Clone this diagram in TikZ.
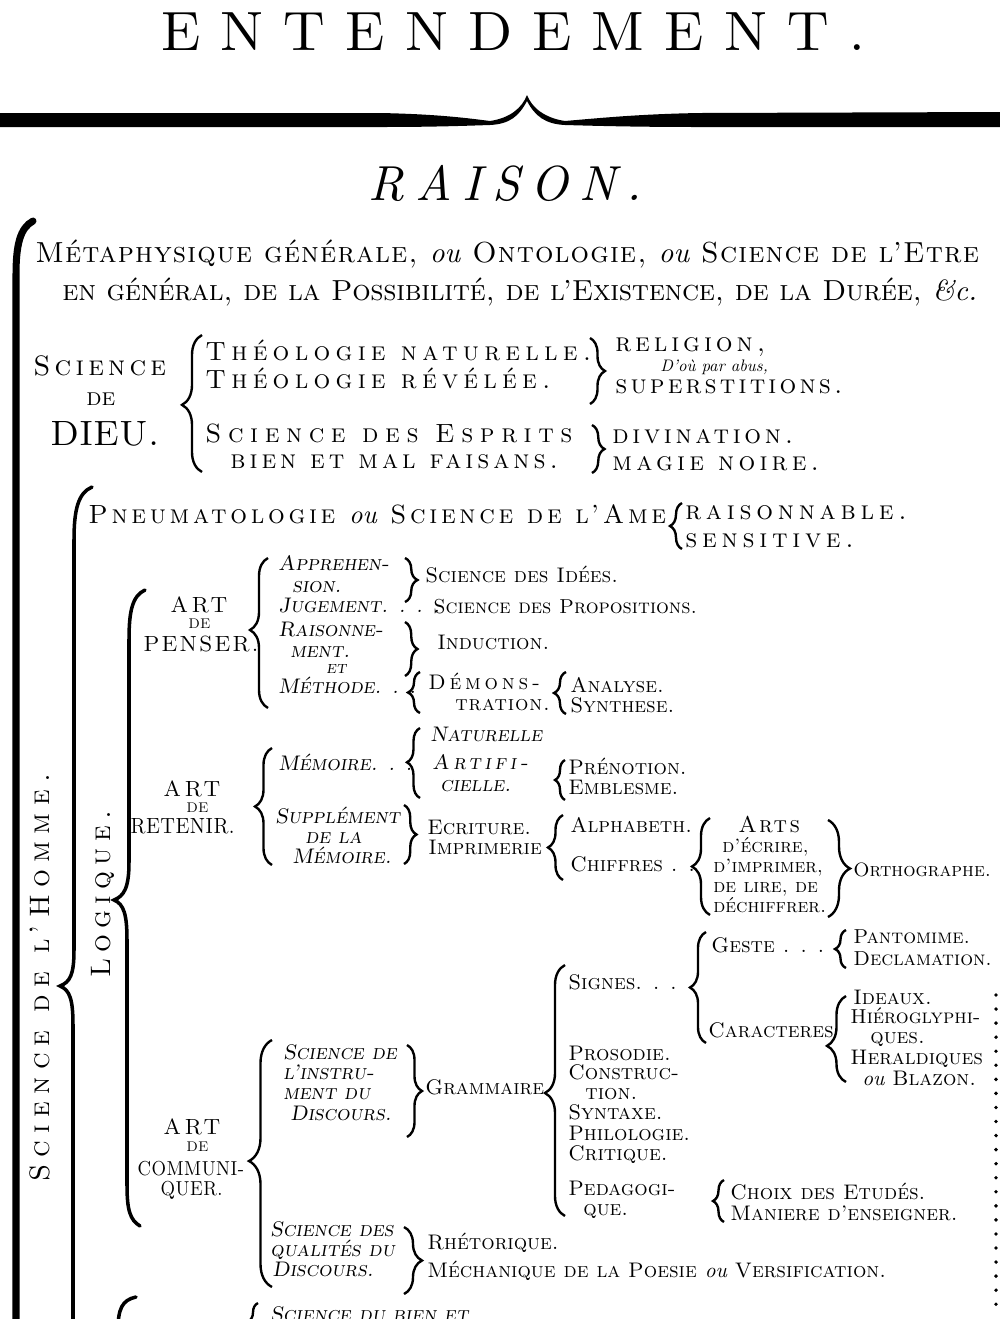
\documentclass[tikz,border=0pt]{standalone}
\usepackage{fontspec}
\setmainfont{lmroman10-regular.otf}[ItalicFont=lmroman10-italic.otf]
\newfontfamily\capsfont{lmromancaps10-regular.otf}
\newfontfamily\slcapsfont{lmromancaps10-oblique.otf}
\newfontfamily\itfont{lmroman10-italic.otf}
\usetikzlibrary{decorations.pathreplacing}

\begin{document}
\begin{tikzpicture}[
	x=0.02cm, y=-0.02cm,
	lbl/.style={inner sep=0pt, anchor=base west},
	smc/.style={lbl, font=\fontsize{#1}{#1}\selectfont\capsfont},
	smc/.default=12,
	smcsp/.style 2 args={lbl, font=\fontsize{#1}{#1}\selectfont\capsfont\addfontfeatures{LetterSpace=#2}},
	narrow/.style 2 args={lbl, font=\fontsize{#1}{#1}\selectfont\capsfont\addfontfeatures{LetterSpace=#2, FakeStretch=0.88}},
	slc/.style={lbl, font=\fontsize{#1}{#1}\selectfont\slcapsfont},
	slc/.default=12,
	slcsp/.style 2 args={lbl, font=\fontsize{#1}{#1}\selectfont\slcapsfont\addfontfeatures{LetterSpace=#2}},
	itl/.style 2 args={lbl, font=\fontsize{#1}{#1}\selectfont\itfont\addfontfeatures{LetterSpace=#2}},
	curly/.style 2 args={decorate, decoration={brace, amplitude=#1, aspect=#2}, line width=1.35pt},
	bar/.style={line width=#1, line cap=round},
	]
	\useasboundingbox (0,0) rectangle (1000,1340);
	\begin{scope}
	\clip (0,0) rectangle (1000,1318);

	% title and rule
	\node[smcsp={31.5}{33}] (entendement) at (160,50) {ENTENDEMENT.};
	\fill (0,113) -- (380,113) .. controls (430,114) and (460,117) .. (490,121)
		.. controls (510,118) and (522,108) .. (527,95)
		.. controls (532,108) and (545,118) .. (565,121)
		.. controls (600,118) and (640,114) .. (700,113) -- (1000,112)
		-- (1000,127) -- (700,127) .. controls (640,127) and (600,126) .. (565,125)
		.. controls (545,124) and (535,116) .. (527,101)
		.. controls (519,116) and (510,124) .. (490,125)
		.. controls (460,126) and (430,127) .. (380,127) -- (0,127) -- cycle;
	\node[itl={28}{22}] (raison) at (368,200) {RAISON.};

	% left rules
	\draw[bar=4pt] (33,221) .. controls (20,228) and (16,245) .. (16,275) -- (16,1330);
	\draw[bar=2pt] (92,487) .. controls (78,493) and (74,510) .. (74,540) -- (74,950)
		.. controls (74,975) and (70,982) .. (60,986)
		.. controls (70,990) and (73,1000) .. (73,1025) -- (73,1330);
	\draw[bar=2pt] (145,590) .. controls (132,596) and (129,612) .. (129,640) -- (129,862)
		.. controls (129,888) and (124,896) .. (114,900)
		.. controls (124,904) and (127,915) .. (127,940) -- (127,1185)
		.. controls (127,1210) and (130,1220) .. (140,1226);
	\node[smcsp={16}{26}, rotate=90] (homme) at (50,1182) {Science de l’Homme.};
	\node[smcsp={16}{22}, rotate=90] (logique) at (110,978) {Logique.};
	\draw[line width=2.2pt, line cap=round, dash pattern=on 0pt off 8pt] (996,995) -- (996,1318);

	% metaphysique
	\node[smcsp={16.5}{4}] (meta1) at (35,262) {Métaphysique générale, {\itfont ou} Ontologie, {\itfont ou} Science de l’Etre};
	\node[smcsp={16.5}{-1}] (meta2) at (62,300) {en général, de la Possibilité, de l’Existence, de la Durée, {\itfont\&c.}};

	% science de dieu
	\node[smcsp={16}{15}] (dieuA) at (33,375) {Science};
	\node[smc=14] (dieuB) at (86,405) {de};
	\node[smcsp={20}{0}] (dieuC) at (50,445) {DIEU.};
	\draw[curly={4mm}{0.49}] (202,472) -- (202,335);
	\node[smcsp={15}{20}] (theoN) at (205,360) {Théologie naturelle.};
	\node[smcsp={15}{20}] (theoR) at (205,388) {Théologie révélée.};
	\node[smcsp={15}{25}] (esprA) at (205,442) {Science des Esprits};
	\node[smcsp={15}{15}] (esprB) at (230,468) {bien et mal faisans.};
	\draw[curly={3mm}{0.5}] (590,338) -- (590,404);
	\node[smcsp={15}{15}] (relig) at (615,351) {religion,};
	\node[itl={9.5}{0}] (abus) at (660,371) {D’où par abus,};
	\node[smcsp={15}{12}] (super) at (615,393) {superstitions.};
	\draw[curly={2.5mm}{0.5}] (592,425) -- (592,473);
	\node[smcsp={15}{14}] (divin) at (612,443) {divination.};
	\node[smcsp={15}{16}] (magie) at (612,470) {magie noire.};

	% pneumatologie
	\node[smcsp={15}{14}] (pneuma) at (88,523) {Pneumatologie {\itfont ou} Science de l’Ame};
	\draw[curly={2.4mm}{0.5}] (682,549) -- (682,503);
	\node[smcsp={15}{18}] (raisonn) at (685,519) {raisonnable.};
	\node[smcsp={15}{18}] (sensit) at (685,547) {sensitive.};

	% art de penser
	\node[smcsp={12.5}{15}] (penserA) at (170,612) {ART};
	\node[smc=8] (penserB) at (188,628) {DE};
	\node[smcsp={12.5}{8}] (penserC) at (143,651) {PENSER.};
	\draw[curly={3.6mm}{0.52}] (268,708) -- (268,558);
	\node[slc] (appr1) at (278,570) {Apprehen-};
	\node[slc] (appr2) at (292,592) {sion.};
	\draw[curly={2.5mm}{0.5}] (405,558) -- (405,602);
	\node[smc] (idees) at (425,582) {Science des Idées.};
	\node[slc] (juge) at (278,612) {Jugement. . . .};
	\node[smc=11.5] (propos) at (433,613) {Science des Propositions.};
	\node[slc] (rais1) at (278,636) {Raisonne-};
	\node[slc] (rais2) at (290,657) {ment.};
	\draw[curly={2.5mm}{0.5}] (405,622) -- (405,676);
	\node[smc] (induct) at (437,649) {Induction.};
	\node[slc=10] (etm) at (326,673) {et};
	\node[slc] (methode) at (278,693) {Méthode. . .};
	\draw[curly={2.4mm}{0.5}] (420,713) -- (420,672);
	\node[smcsp={12}{18}] (demo1) at (428,689) {Démons-};
	\node[smcsp={12}{4}] (demo2) at (455,710) {tration.};
	\draw[curly={2.4mm}{0.5}] (566,714) -- (566,672);
	\node[smc] (analyse) at (570,692) {Analyse.};
	\node[smc] (synthese) at (570,712) {Synthese.};

	% art de retenir
	\node[smcsp={12.5}{15}] (retenirA) at (163,796) {ART};
	\node[smc=8] (retenirB) at (186,812) {DE};
	\node[narrow={12.5}{0}] (retenirC) at (130,833) {RETENIR.};
	\draw[curly={3.4mm}{0.5}] (272,865) -- (272,748);
	\node[slc] (memoire) at (278,770) {Mémoire. . .};
	\draw[curly={2.6mm}{0.51}] (420,798) -- (420,728);
	\node[slc] (natur) at (430,741) {Naturelle};
	\node[slcsp={12}{18}] (artif1) at (432,769) {Artifi-};
	\node[slc] (artif2) at (440,791) {cielle.};
	\draw[curly={2mm}{0.5}] (565,800) -- (565,760);
	\node[smc] (prenot) at (568,774) {Prénotion.};
	\node[smc] (emblem) at (568,794) {Emblesme.};
	\node[slc] (suppl1) at (275,823) {Supplément};
	\node[slc] (suppl2) at (305,843) {de la};
	\node[slc] (suppl3) at (292,863) {Mémoire.};
	\draw[curly={2.5mm}{0.5}] (404,805) -- (404,864);
	\node[smc] (ecrit) at (427,834) {Ecriture.};
	\node[smc] (imprim) at (428,854) {Imprimerie};
	\draw[curly={3mm}{0.5}] (563,880) -- (563,815);
	\node[smc] (alpha) at (570,832) {Alphabeth.};
	\node[smc] (chiff) at (570,871) {Chiffres . .};
	\draw[curly={3.6mm}{0.5}] (710,915) -- (710,818);
	\node[smcsp={13}{10}] (arts1) at (738,832) {Arts};
	\node[smc=11] (arts2) at (722,852) {d’écrire,};
	\node[smc=11] (arts3) at (713,872) {d’imprimer,};
	\node[smc=11] (arts4) at (713,892) {de lire, de};
	\node[smc=11] (arts5) at (713,912) {déchiffrer.};
	\draw[curly={4.4mm}{0.5}] (828,820) -- (828,917);
	\node[smc=11] (ortho) at (853,876) {Orthographe.};

	% art de communiquer
	\node[smcsp={12.5}{15}] (commA) at (163,1134) {ART};
	\node[smc=8] (commB) at (186,1151) {DE};
	\node[narrow={11.5}{0}] (commC) at (137,1175) {COMMUNI-};
	\node[narrow={11.5}{0}] (commD) at (160,1195) {QUER.};
	\draw[curly={4.6mm}{0.51}] (272,1287) -- (272,1040);
	\node[slc] (instr1) at (283,1059) {Science de};
	\node[slc] (instr2) at (283,1079) {l’instru-};
	\node[slc] (instr3) at (283,1099) {ment du};
	\node[slc] (instr4) at (290,1120) {Discours.};
	\draw[curly={3mm}{0.5}] (407,1045) -- (407,1137);
	\node[smc] (gramm) at (425,1094) {Grammaire};
	\draw[curly={4mm}{0.49}] (565,1216) -- (565,965);
	\node[smc] (signes) at (568,989) {Signes. . .};
	\draw[curly={3.2mm}{0.5}] (706,1043) -- (706,932);
	\node[smc] (geste) at (711,952) {Geste . . . .};
	\draw[curly={2.2mm}{0.5}] (846,968) -- (846,930);
	\node[smc=11.5] (panto) at (853,943) {Pantomime.};
	\node[smc=11.5] (declam) at (853,965) {Declamation.};
	\node[smc] (caract) at (708,1037) {Caracteres};
	\draw[curly={3.8mm}{0.42}] (846,1082) -- (846,996);
	\node[smc] (ideaux) at (853,1004) {Ideaux.};
	\node[smc=11.5] (hiero1) at (850,1023) {Hiéroglyphi-};
	\node[smc] (hiero2) at (870,1043) {ques.};
	\node[smc] (herald1) at (850,1064) {Heraldiques};
	\node[smc] (herald2) at (862,1085) {{\itfont ou} Blazon.};
	\node[smc] (prosod) at (568,1060) {Prosodie.};
	\node[smc] (constr1) at (568,1079) {Construc-};
	\node[smc] (constr2) at (585,1099) {tion.};
	\node[smc] (syntax) at (568,1119) {Syntaxe.};
	\node[smc] (philol) at (568,1140) {Philologie.};
	\node[smc] (critiq) at (568,1160) {Critique.};
	\node[smc] (pedag1) at (568,1195) {Pedagogi-};
	\node[smc] (pedag2) at (583,1215) {que.};
	\draw[curly={2.2mm}{0.5}] (724,1222) -- (724,1180);
	\node[smc] (choix) at (730,1199) {Choix des Etudés.};
	\node[smc] (maniere) at (730,1220) {Maniere d’enseigner.};
	\node[slc] (qual1) at (270,1236) {Science des};
	\node[slc] (qual2) at (270,1256) {qualités du};
	\node[slc] (qual3) at (272,1276) {Discours.};
	\draw[curly={3.6mm}{0.5}] (404,1227) -- (404,1294);
	\node[smc] (rhetor) at (427,1249) {Rhétorique.};
	\node[smc] (versif) at (427,1277) {Méchanique de la Poesie {\itfont ou} Versification.};

	% next branch, cut by the page
	\draw[bar=2pt] (136,1297) .. controls (122,1300) and (118,1309) .. (118,1330);
	\draw[curly={2mm}{0.5}] (258,1340) -- (258,1303);
	\node[slc] (bien) at (270,1321) {Science du bien et};
	\end{scope}
\end{tikzpicture}
\end{document}
